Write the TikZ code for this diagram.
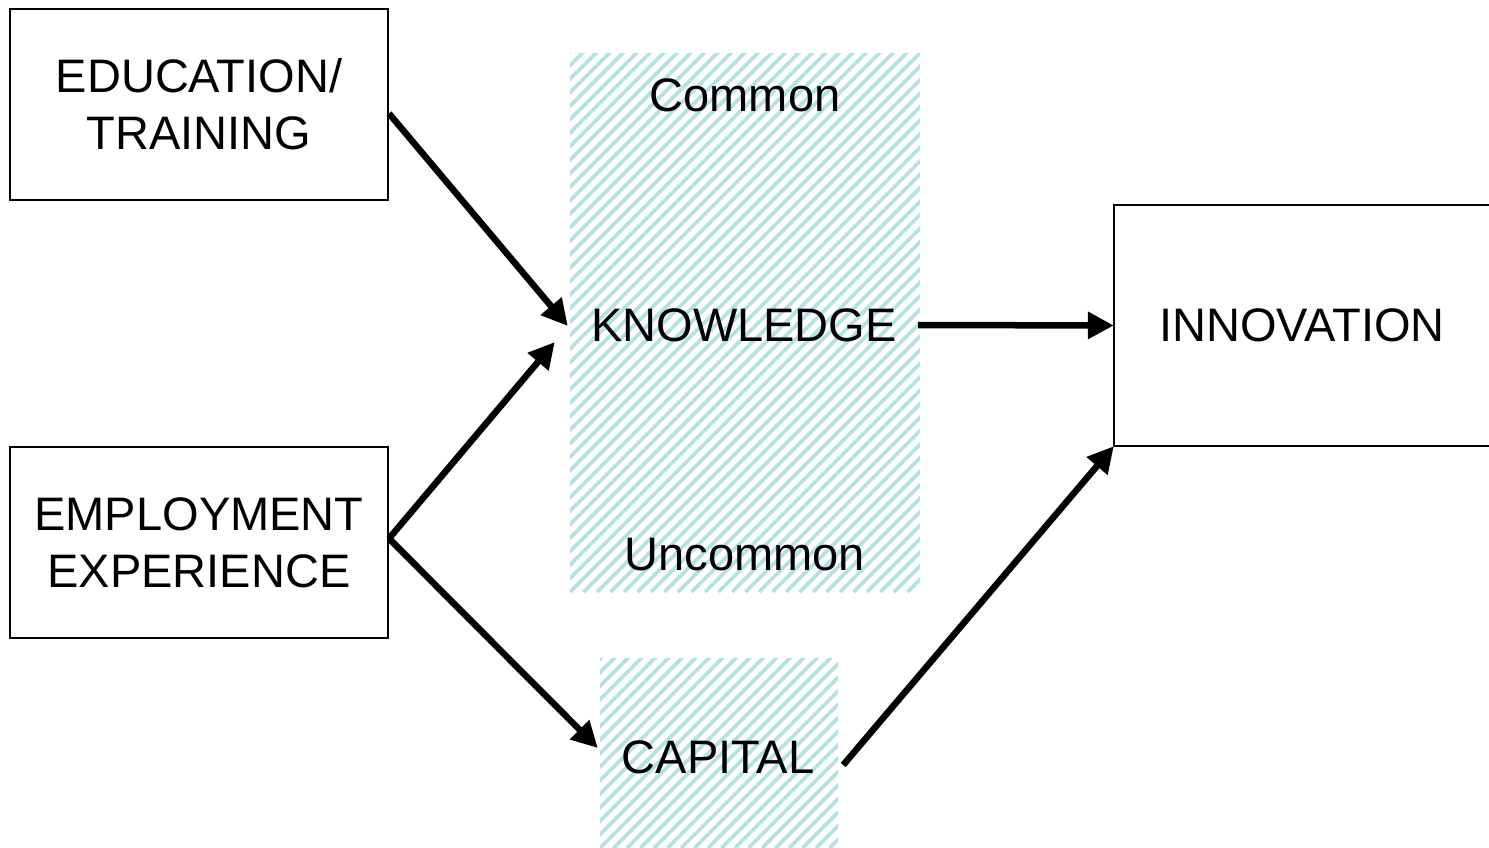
\documentclass[tikz,border=0pt]{standalone}
\usepackage{fontspec}
\setmainfont{Liberation Sans}
\usetikzlibrary{arrows.meta,calc}
\definecolor{hatchcol}{RGB}{180,225,228}
\tikzset{
  lbl/.style={font=\fontsize{47}{57}\selectfont, text=black, inner sep=0pt, align=center},
  factorbox/.style={draw=black, line width=2pt, minimum width=378pt, minimum height=191pt,
    font=\fontsize{47}{57}\selectfont, align=center, inner sep=0pt},
  hatched/.style={inner sep=0pt, path picture={
      \foreach \k in {-45,...,30}
        \draw[hatchcol, line width=3.8pt]
          ($(path picture bounding box.south west)+(\k*13.5pt,0pt)$) -- ++(700pt,700pt);
    }},
  flow/.style={line width=6.5pt, -{Triangle[length=26pt,width=26pt]}}
}
\begin{document}
\begin{tikzpicture}[x=1pt,y=-1pt]
\useasboundingbox (0,0) rectangle (1489,848);

% hatched knowledge and capital bands
\node[hatched, minimum width=350pt, minimum height=538pt] (knowbox) at (745,323) {};
\node[hatched, minimum width=238pt, minimum height=190pt] (capbox) at (719,753) {};

% labels on the bands
\node[lbl] (common) at (745,95) {Common};
\node[lbl] (knowledge) at (744,325) {KNOWLEDGE};
\node[lbl] (uncommon) at (745,555) {Uncommon};
\node[lbl] (capital) at (718,757) {CAPITAL};

% source boxes
\node[factorbox] (edu) at (199,104.5) {EDUCATION/\\TRAINING};
\node[factorbox] (emp) at (199,542.5) {EMPLOYMENT\\EXPERIENCE};

% outcome box, open on its right side
\node[lbl, minimum width=376pt, minimum height=241pt] (innov) at (1302,325.5) {INNOVATION};
\draw[line width=2pt] (innov.north east) -- (innov.north west) -- (innov.south west) -- (innov.south east);

% connectors
\coordinate (eduout) at ($(edu.east)+(0,9)$);
\coordinate (empout) at ($(emp.east)+(0,-4)$);
\coordinate (knowin1) at ($(knowbox.west)+(-2,3)$);
\coordinate (knowin2) at ($(knowbox.west)+(-15,19)$);
\coordinate (capin) at ($(capbox.west)+(-2,-5)$);
\coordinate (knowout) at ($(knowbox.east)+(-2,2)$);
\coordinate (capout) at ($(capbox.east)+(5,12)$);

\draw[flow] (eduout) -- (knowin1);
\draw[flow] (empout) -- (knowin2);
\draw[flow] (empout) -- (capin);
\draw[flow] (knowout) -- (innov.west);
\draw[flow] (capout) -- (innov.south west);
\end{tikzpicture}
\end{document}
